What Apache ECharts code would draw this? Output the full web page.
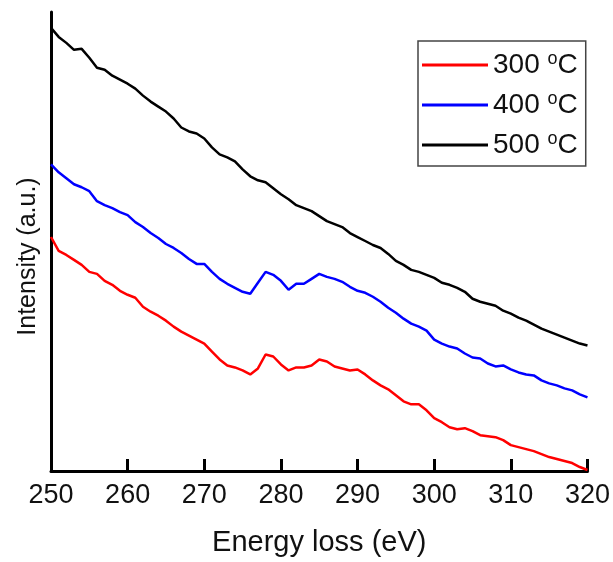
<!DOCTYPE html>
<html>
<head>
<meta charset="utf-8">
<script src="https://cdn.jsdelivr.net/npm/echarts@6/dist/echarts.min.js"></script>
<style>html,body{margin:0;padding:0;background:#fff}#c{width:613px;height:562px}</style>
</head>
<body>
<div id="c"></div>
<script>
var energy = [];
for (var e = 250; e <= 320; e++) energy.push(e);
var xTicks = [250, 260, 270, 280, 290, 300, 310, 320];
var seriesNames = ['300 °C', '400 °C', '500 °C'];

var s300 = [235,221,217,212,207,200,198,191,187,181,177,174,165,160,156,151,145,140,136,132,
128,120,112,106,104,101,97,103,117,115,107,101,104,104,106,112,110,105,103,101,
102,97,91,86,82,76,70,67,67,61,53,49,44,42,43,40,36,35,34,31,
26,24,22,20,17,14,12,10,8,4,1];
var s400 = [308,300,294,288,285,281,271,267,264,260,257,250,245,239,234,228,224,219,213,208,
208,200,193,188,184,180,178,189,200,197,191,182,188,188,193,198,195,193,190,185,
181,179,175,170,164,159,153,148,145,141,132,128,125,123,118,114,113,108,105,106,
102,99,97,96,91,88,86,83,81,77,74];
var s500 = [445,436,430,423,424,415,405,403,397,393,389,384,377,371,366,361,354,345,341,339,
334,325,318,315,311,303,296,292,290,284,278,273,267,264,261,256,251,248,245,239,
235,231,227,224,218,211,207,202,200,197,194,189,187,184,180,173,170,168,166,161,
158,154,151,147,143,140,137,134,131,128,126];

function pairs(arr){ return energy.map(function(x,i){ return [x, arr[i]]; }); }

var colors = ['#ff0000', '#0000ff', '#000000'];
var font = 'Liberation Sans, Arial, sans-serif';
var chart = echarts.init(document.getElementById('c'), null, {renderer:'canvas'});
chart.setOption({
  animation: false,
  backgroundColor: '#fff',
  grid: {left: 51, right: 23, top: 12, bottom: 89, containLabel: false},
  xAxis: {
    type: 'value', min: 250, max: 320, interval: 10,
    name: 'Energy loss (eV)', nameLocation: 'middle', nameGap: 57,
    nameTextStyle: {fontSize: 29, color: '#111', fontFamily: font},
    axisLine: {show: true, onZero: false, lineStyle: {color: '#000', width: 3}},
    axisTick: {show: true, inside: true, length: 12, lineStyle: {color: '#000', width: 3}},
    axisLabel: {fontSize: 27, color: '#111', fontFamily: font, margin: 11,
      formatter: function(v){ return xTicks.indexOf(v) >= 0 ? String(v) : ''; }},
    splitLine: {show: false}
  },
  yAxis: {
    type: 'value', min: 0, max: 461,
    name: 'Intensity (a.u.)', nameLocation: 'middle', nameGap: 10,
    nameTextStyle: {fontSize: 25, color: '#111', fontFamily: font, padding: [0, 30, 0, 0]},
    axisLine: {show: true, lineStyle: {color: '#000', width: 3}},
    axisTick: {show: false}, axisLabel: {show: false}, splitLine: {show: false}
  },
  legend: {
    left: 418, top: 41, orient: 'vertical',
    data: seriesNames,
    icon: 'rect', itemWidth: 66, itemHeight: 3, itemGap: 10,
    backgroundColor: '#fff', borderColor: '#444', borderWidth: 1.5,
    padding: [9, 8, 6, 4],
    formatter: function(n){ var p = n.split(' °'); return p[0] + ' {s|o}C'; },
    textStyle: {fontSize: 28, color: '#111', fontFamily: font, lineHeight: 30,
      rich: {s: {fontSize: 18, verticalAlign: 'top', lineHeight: 22, color: '#111', fontFamily: font}}}
  },
  series: [
    {name: seriesNames[0], type: 'line', data: pairs(s300), showSymbol: false, symbol: 'none',
     lineStyle: {color: colors[0], width: 2.5}, itemStyle: {color: colors[0]}, clip: false},
    {name: seriesNames[1], type: 'line', data: pairs(s400), showSymbol: false, symbol: 'none',
     lineStyle: {color: colors[1], width: 2.5}, itemStyle: {color: colors[1]}},
    {name: seriesNames[2], type: 'line', data: pairs(s500), showSymbol: false, symbol: 'none',
     lineStyle: {color: colors[2], width: 2.5}, itemStyle: {color: colors[2]}}
  ]
});
</script>
</body>
</html>
